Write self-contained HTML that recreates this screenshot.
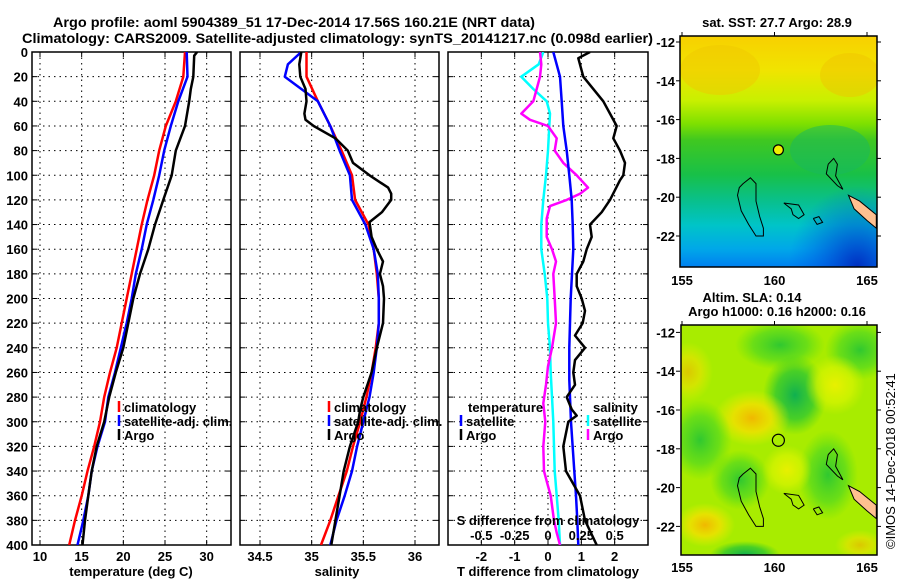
<!DOCTYPE html>
<html><head><meta charset="utf-8"><style>
body{margin:0;background:#fff;}
svg{display:block;}
text{font-family:"Liberation Sans",Arial,sans-serif;font-weight:bold;font-size:13px;fill:#000;}
</style></head><body>
<svg id="fig" width="900" height="580" viewBox="0 0 900 580" xmlns="http://www.w3.org/2000/svg">
<defs>
<linearGradient id="sstGrad" x1="0" y1="0" x2="0" y2="1">
<stop offset="0" stop-color="#f8d000"/><stop offset="0.15" stop-color="#f0e400"/><stop offset="0.28" stop-color="#c8f000"/>
<stop offset="0.38" stop-color="#7ee000"/><stop offset="0.45" stop-color="#40c820"/><stop offset="0.6" stop-color="#18c048"/>
<stop offset="0.72" stop-color="#08c090"/><stop offset="0.82" stop-color="#00c4c8"/><stop offset="0.92" stop-color="#00a8e8"/><stop offset="1" stop-color="#0080f0"/>
</linearGradient>
<radialGradient id="blueBR" cx="0.9" cy="1" r="0.35"><stop offset="0" stop-color="#0030c0"/><stop offset="1" stop-color="#0060f0" stop-opacity="0"/></radialGradient>
<radialGradient id="gDark"><stop offset="0" stop-color="#10b050"/><stop offset="0.6" stop-color="#30c830" stop-opacity="0.8"/><stop offset="1" stop-color="#40d020" stop-opacity="0"/></radialGradient>
<radialGradient id="gMid"><stop offset="0" stop-color="#30c830"/><stop offset="0.6" stop-color="#50d820" stop-opacity="0.7"/><stop offset="1" stop-color="#60e010" stop-opacity="0"/></radialGradient>
<radialGradient id="yOr"><stop offset="0" stop-color="#f0b800"/><stop offset="0.5" stop-color="#f0e000" stop-opacity="0.85"/><stop offset="1" stop-color="#e8f000" stop-opacity="0"/></radialGradient>
<radialGradient id="yLt"><stop offset="0" stop-color="#e8f000"/><stop offset="0.6" stop-color="#d8f400" stop-opacity="0.7"/><stop offset="1" stop-color="#d0f000" stop-opacity="0"/></radialGradient>
<clipPath id="clipP1"><rect x="32" y="52" width="199" height="493"/></clipPath>
<clipPath id="clipP2"><rect x="240" y="52" width="199" height="493"/></clipPath>
<clipPath id="clipP3"><rect x="448" y="52" width="200" height="493"/></clipPath>
<clipPath id="clipM1"><rect x="680" y="36" width="197" height="231"/></clipPath>
<clipPath id="clipM2"><rect x="681" y="325" width="196" height="230"/></clipPath>
</defs>

<text x="53" y="27" textLength="482" lengthAdjust="spacingAndGlyphs" style="font-size:14px">Argo profile: aoml 5904389_51 17-Dec-2014 17.56S 160.21E (NRT data)</text>
<text x="22" y="43" textLength="631" lengthAdjust="spacingAndGlyphs" style="font-size:14px">Climatology: CARS2009. Satellite-adjusted climatology: synTS_20141217.nc (0.098d earlier)</text>

<g id="p1"></g>
<g id="p2"></g>
<g id="p3"></g>

<g>
<text x="777" y="27" text-anchor="middle">sat. SST: 27.7 Argo: 28.9</text>
<g clip-path="url(#clipM1)">
<rect x="680" y="36" width="197" height="231" fill="url(#sstGrad)"/>
<rect x="680" y="36" width="197" height="231" fill="url(#blueBR)"/>
<ellipse cx="720" cy="70" rx="40" ry="25" fill="#f0c800" opacity="0.5"/>
<ellipse cx="850" cy="75" rx="30" ry="22" fill="#f0c000" opacity="0.45"/>
<ellipse cx="830" cy="150" rx="40" ry="25" fill="#18b860" opacity="0.5"/>
</g>
<g id="m1coast" fill="none" stroke="#000" stroke-width="1"></g>
<rect x="680" y="36" width="197" height="231" fill="none" stroke="#000" stroke-width="1.5"/>
</g>

<g>
<text x="752" y="302" text-anchor="middle">Altim. SLA: 0.14</text>
<text x="777" y="316" text-anchor="middle">Argo h1000: 0.16 h2000: 0.16</text>
<g clip-path="url(#clipM2)">
<rect x="681" y="325" width="196" height="230" fill="#a8ec00"/>
<ellipse cx="780" cy="345" rx="45" ry="25" fill="url(#gMid)"/>
<ellipse cx="795" cy="395" rx="32" ry="40" fill="url(#gDark)"/>
<ellipse cx="860" cy="350" rx="35" ry="30" fill="url(#gMid)"/>
<ellipse cx="752" cy="418" rx="38" ry="28" fill="url(#yOr)"/>
<ellipse cx="688" cy="372" rx="25" ry="30" fill="url(#yOr)" opacity="0.7"/>
<ellipse cx="835" cy="385" rx="30" ry="30" fill="url(#yLt)"/>
<ellipse cx="700" cy="440" rx="32" ry="40" fill="url(#gMid)"/>
<ellipse cx="740" cy="480" rx="30" ry="30" fill="url(#gMid)"/>
<ellipse cx="828" cy="475" rx="30" ry="45" fill="url(#gMid)"/>
<ellipse cx="787" cy="470" rx="25" ry="25" fill="url(#yLt)"/>
<ellipse cx="705" cy="525" rx="30" ry="22" fill="url(#yOr)"/>
<ellipse cx="745" cy="555" rx="35" ry="14" fill="url(#gDark)"/>
<ellipse cx="860" cy="545" rx="25" ry="15" fill="url(#yOr)" opacity="0.7"/>
</g>
<g id="m2coast" fill="none" stroke="#000" stroke-width="1"></g>
<rect x="681" y="325" width="196" height="230" fill="none" stroke="#000" stroke-width="1.5"/>
</g>

<text transform="translate(895,549) rotate(-90)" style="font-weight:normal">©IMOS 14-Dec-2018 00:52:41</text>
</svg>
<script>
const tempClimDepth = [0,20,40,60,80,100,120,140,160,180,200,220,240,260,280,300,320,340,360,380,400];
const tempClim = [27.4,27.2,26.3,25.1,24.3,23.7,22.9,22.2,21.6,21.0,20.4,19.8,19.2,18.4,17.7,17.2,16.5,15.7,15.0,14.2,13.5];
const tempSat = [27.6,27.7,26.6,25.7,24.9,24.3,23.6,22.8,22.2,21.5,21.0,20.4,19.7,19.0,18.2,17.8,16.9,16.2,15.8,15.2,14.5];
const tempArgoDepth = [0,3,20,30,40,60,80,100,120,140,160,180,200,220,240,260,280,300,320,340,360,380,400];
const tempArgo = [28.85,28.5,28.4,28.1,27.9,27.4,26.3,25.8,24.8,23.8,23.0,22.0,21.2,20.6,20.0,19.1,18.3,17.7,16.8,16.2,15.8,15.4,15.1];

const salClimDepth = [0,10,20,40,60,80,100,120,140,160,180,200,220,240,260,280,300,320,340,360,380,400];
const salClim = [34.95,34.95,34.95,35.06,35.18,35.29,35.39,35.42,35.55,35.60,35.63,35.65,35.65,35.62,35.58,35.53,35.47,35.40,35.34,35.26,35.18,35.09];
const salSatDepth = [0,10,20,30,40,60,80,100,120,140,160,180,200,220,240,260,280,300,320,340,360,380,400];
const salSat = [34.90,34.77,34.74,34.90,35.06,35.18,35.27,35.37,35.39,35.52,35.60,35.64,35.65,35.65,35.63,35.60,35.56,35.50,35.44,35.39,35.32,35.24,35.18];
const salArgoDepth = [0,10,20,30,40,50,55,60,70,80,90,100,110,115,120,130,138,150,160,170,180,190,200,220,240,260,280,290,300,320,340,360,380,400];
const salArgo = [34.90,34.88,34.89,34.94,34.95,34.93,34.94,35.02,35.23,35.35,35.40,35.56,35.74,35.77,35.77,35.68,35.56,35.58,35.63,35.69,35.66,35.69,35.70,35.69,35.63,35.58,35.50,35.47,35.45,35.37,35.31,35.27,35.23,35.19];

const dTSatDepth = [0,20,40,60,80,100,120,140,160,200,240,266,300,340,360,380,400];
const dTSat = [0.16,0.36,0.41,0.46,0.56,0.64,0.71,0.74,0.76,0.68,0.64,0.64,0.69,0.79,0.84,0.88,0.91];
const dTArgoDepth = [0,5,20,40,50,60,70,80,90,100,104,120,130,140,150,160,170,180,190,200,210,220,230,240,250,260,270,280,290,295,300,320,340,360,380,400];
const dTArgo = [1.26,0.91,1.06,1.66,1.86,2.06,1.96,2.16,2.31,2.26,2.16,1.86,1.61,1.26,1.31,1.16,1.06,0.86,0.86,1.01,1.11,1.04,0.81,1.11,0.81,0.76,0.81,0.56,0.71,0.86,0.61,0.46,0.54,0.96,1.11,1.46];
const dSSatDepth = [0,10,20,30,40,50,60,80,100,120,140,160,180,200,220,240,260,280,300,340,360,380,400];
const dSSat = [-0.035,-0.07,-0.20,-0.11,-0.01,0.015,0.01,0.0,-0.015,-0.035,-0.05,-0.05,-0.025,-0.005,0.0,0.015,0.02,0.03,0.04,0.05,0.065,0.08,0.09];
const dSArgoDepth = [0,10,20,30,40,50,55,60,70,80,90,100,110,115,120,125,135,150,160,170,180,200,220,240,255,270,285,300,320,340,350,360,380,390,400];
const dSArgo = [-0.06,-0.05,-0.06,-0.085,-0.11,-0.20,-0.135,0.0,0.065,0.05,0.115,0.215,0.30,0.24,0.14,0.015,-0.01,-0.01,0.03,0.06,0.04,0.05,0.06,0.03,0.0,-0.015,-0.035,-0.02,-0.035,-0.03,-0.005,0.02,0.045,0.065,0.09];

const depthTicks = [0,20,40,60,80,100,120,140,160,180,200,220,240,260,280,300,320,340,360,380,400];
const tempTicks = [10,15,20,25,30];
const salTicks = [34.5,35,35.5,36];
const salTickLabels = ["34.5","35","35.5","36"];
const dTTicks = [-2,-1,0,1,2];
const dSTicks = [-0.5,-0.25,0,0.25,0.5];
const dSTickLabels = ["-0.5","-0.25","0","0.25","0.5"];
const lonTicks = [155,160,165];
const latTicks = [-12,-14,-16,-18,-20,-22];
const argoLon = 160.21, argoLat = -17.56;

const NS = 'http://www.w3.org/2000/svg';
const yD = d => 52 + d * 493 / 400;
const xT = t => 40 + (t - 10) * 166.67 / 20;
const xS = s => 260 + (s - 34.5) * 103.33;
const xDT = v => 548 + v * 33.33;
const xDS = v => 548 + v * 133.33;
const lonX = lon => 682 + (lon - 155) * 18.5;
const latY1 = lat => 42 + (-12 - lat) * 19.4;
const latY2 = lat => 332.4 + (-12 - lat) * 19.4;

function mk(tag, attrs, parent, txt) {
  const e = document.createElementNS(NS, tag);
  for (const k in attrs) e.setAttribute(k, attrs[k]);
  if (txt !== undefined) e.textContent = txt;
  parent.appendChild(e);
  return e;
}

function frame(g, x0, x1, xs, ticks, labels, showY) {
  ticks.forEach(t => {
    const l = mk('line', {x1: xs(t), x2: xs(t), y1: 52, y2: 545, stroke: '#000', 'stroke-width': 1, 'stroke-dasharray': '1.5,4'}, g);
    
    
  });
  depthTicks.forEach(d => {
    if (d > 0 && d < 400) {
      const l = mk('line', {x1: x0, x2: x1, y1: yD(d), y2: yD(d), stroke: '#000', 'stroke-width': 1, 'stroke-dasharray': '1.5,4'}, g);
      
      
    }
    mk('line', {x1: x0, x2: x0 + 5, y1: yD(d), y2: yD(d), stroke: '#000'}, g);
    mk('line', {x1: x1 - 5, x2: x1, y1: yD(d), y2: yD(d), stroke: '#000'}, g);
    if (showY) {
      const t = mk('text', {x: 28, y: yD(d) + 5, 'text-anchor': 'end'}, g, String(d));
      
      
    }
  });
  ticks.forEach((t, i) => {
    mk('line', {x1: xs(t), x2: xs(t), y1: 545, y2: 540, stroke: '#000'}, g);
    mk('line', {x1: xs(t), x2: xs(t), y1: 52, y2: 57, stroke: '#000'}, g);
    const tx = mk('text', {x: xs(t), y: 561, 'text-anchor': 'middle'}, g, labels[i]);
    
    
  });
  const r = mk('rect', {x: x0, y: 52, width: x1 - x0, height: 493, fill: 'none', stroke: '#000', 'stroke-width': 1.5}, g);
  
  
}

function line(g, depths, vals, xs, color, name, clip) {
  const pts = depths.map((d, i) => xs(vals[i]).toFixed(1) + ',' + yD(d).toFixed(1)).join(' ');
  const p = mk('polyline', {points: pts, fill: 'none', stroke: color, 'stroke-width': 2.5, 'stroke-linejoin': 'round', 'clip-path': clip}, g);
  
  
}

function legend(g, x, y, color, label) {
  mk('line', {x1: x, x2: x, y1: y - 6, y2: y + 5, stroke: color, 'stroke-width': 2.5}, g);
  const t = mk('text', {x: x + 5, y: y + 5}, g, label);
  
  
}

function axisTitle(g, x, label) {
  const t = mk('text', {x: x, y: 576, 'text-anchor': 'middle'}, g, label);
  
  
}

const p1 = document.getElementById('p1');
frame(p1, 32, 231, xT, tempTicks, tempTicks.map(String), true);
line(p1, tempClimDepth, tempClim, xT, '#ff0000', 'temperature-climatology-line', 'url(#clipP1)');
line(p1, tempClimDepth, tempSat, xT, '#0000ff', 'temperature-satellite-line', 'url(#clipP1)');
line(p1, tempArgoDepth, tempArgo, xT, '#000000', 'temperature-argo-line', 'url(#clipP1)');
legend(p1, 119, 407, '#ff0000', 'climatology');
legend(p1, 119, 421, '#0000ff', 'satellite-adj. clim.');
legend(p1, 119, 435, '#000000', 'Argo');
axisTitle(p1, 131, 'temperature (deg C)');

const p2 = document.getElementById('p2');
frame(p2, 240, 439, xS, salTicks, salTickLabels, false);
line(p2, salClimDepth, salClim, xS, '#ff0000', 'salinity-climatology-line', 'url(#clipP2)');
line(p2, salSatDepth, salSat, xS, '#0000ff', 'salinity-satellite-line', 'url(#clipP2)');
line(p2, salArgoDepth, salArgo, xS, '#000000', 'salinity-argo-line', 'url(#clipP2)');
legend(p2, 329, 407, '#ff0000', 'climatology');
legend(p2, 329, 421, '#0000ff', 'satellite-adj. clim.');
legend(p2, 329, 435, '#000000', 'Argo');
axisTitle(p2, 337, 'salinity');

const p3 = document.getElementById('p3');
frame(p3, 448, 648, xDT, dTTicks, dTTicks.map(String), false);
line(p3, dSSatDepth, dSSat, xDS, '#00ffff', 'salinity-diff-satellite-line', 'url(#clipP3)');
line(p3, dSArgoDepth, dSArgo, xDS, '#ff00ff', 'salinity-diff-argo-line', 'url(#clipP3)');
line(p3, dTSatDepth, dTSat, xDT, '#0000ff', 'temperature-diff-satellite-line', 'url(#clipP3)');
line(p3, dTArgoDepth, dTArgo, xDT, '#000000', 'temperature-diff-argo-line', 'url(#clipP3)');
const tl = mk('text', {x: 468, y: 412}, p3, 'temperature');


legend(p3, 461, 421, '#0000ff', 'satellite');
legend(p3, 461, 435, '#000000', 'Argo');
const sl = mk('text', {x: 593, y: 412}, p3, 'salinity');


legend(p3, 588, 421, '#00ffff', 'satellite');
legend(p3, 588, 435, '#ff00ff', 'Argo');
const st = mk('text', {x: 548, y: 525, 'text-anchor': 'middle'}, p3, 'S difference from climatology');


dSTicks.forEach((v, i) => {
  const t = mk('text', {x: xDS(v), y: 540, 'text-anchor': 'middle'}, p3, dSTickLabels[i]);
  
  
});
axisTitle(p3, 548, 'T difference from climatology');

function mapAxes(top, bottom, latY, labelY) {
  const svg = document.getElementById('fig');
  lonTicks.forEach(l => {
    mk('line', {x1: lonX(l), x2: lonX(l), y1: top - 4, y2: top, stroke: '#000'}, svg);
    const t = mk('text', {x: lonX(l), y: labelY, 'text-anchor': 'middle'}, svg, String(l));
    
    
  });
  latTicks.forEach(l => {
    mk('line', {x1: 676, x2: 680, y1: latY(l), y2: latY(l), stroke: '#000'}, svg);
    mk('line', {x1: 877, x2: 881, y1: latY(l), y2: latY(l), stroke: '#000'}, svg);
    const t = mk('text', {x: 675, y: latY(l) + 5, 'text-anchor': 'end'}, svg, String(l));
    
    
  });
}
mapAxes(36, 267, latY1, 285);
mapAxes(325, 555, latY2, 572);

function coast(gid, latY) {
  const g = document.getElementById(gid);
  const shapes = [
    [[158.3,-19.3],[158.7,-19.0],[159.0,-19.3],[159.0,-20.2],[159.2,-21.0],[159.4,-21.6],[159.4,-22.0],[159.0,-22.0],[158.6,-21.4],[158.2,-20.7],[158.0,-19.9],[158.1,-19.5],[158.3,-19.3]],
    [[160.5,-20.3],[161.3,-20.4],[161.6,-20.9],[161.3,-21.1],[161.0,-20.9],[160.9,-20.6],[160.5,-20.3]],
    [[162.9,-18.3],[163.2,-18.0],[163.4,-18.3],[163.3,-18.9],[163.7,-19.6],[163.4,-19.4],[162.8,-18.8],[162.9,-18.3]],
    [[162.1,-21.1],[162.4,-21.0],[162.6,-21.3],[162.3,-21.4],[162.1,-21.1]]
  ];
  shapes.forEach(s => {
    const p = mk('polyline', {points: s.map(q => lonX(q[0]).toFixed(1) + ',' + latY(q[1]).toFixed(1)).join(' ')}, g);
    
    
  });
  const nc = [[164.0,-19.9],[164.6,-20.2],[165.5,-20.9],[165.5,-21.6],[165.0,-21.2],[164.3,-20.6],[164.0,-19.9]];
  const n = mk('polygon', {points: nc.map(q => lonX(q[0]).toFixed(1) + ',' + latY(q[1]).toFixed(1)).join(' '), fill: '#ffc090', stroke: '#000', 'stroke-width': 1}, g);
  
  
}
coast('m1coast', latY1);
coast('m2coast', latY2);

const svgEl = document.getElementById('fig');
const d1 = mk('circle', {cx: lonX(argoLon), cy: latY1(argoLat), r: 5, fill: '#f0f000', stroke: '#000', 'stroke-width': 1.2}, svgEl);


const d2 = mk('circle', {cx: lonX(argoLon), cy: latY2(argoLat), r: 6, fill: 'none', stroke: '#000', 'stroke-width': 1.2}, svgEl);


</script>
</body></html>
